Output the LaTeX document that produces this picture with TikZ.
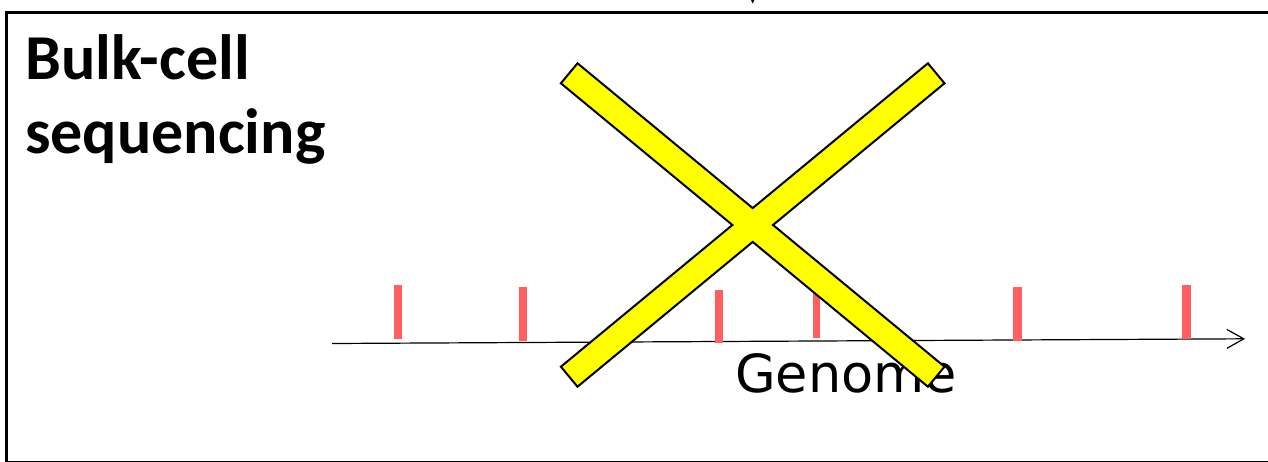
\documentclass[tikz,border=0pt]{standalone}
\usepackage{fontspec}
\setmainfont{Carlito}
\newfontfamily\genomefont{DejaVu Sans}
\usetikzlibrary{arrows.meta}
\definecolor{markred}{RGB}{255,95,95}
\definecolor{crossyellow}{RGB}{255,255,0}
\tikzset{
  frame/.style={draw=black,line width=2.2pt},
  axisline/.style={draw=black,line width=1.2pt,-{Straight Barb[length=17pt,width=19pt,line width=1.2pt]}},
  mark/.style={draw=none,fill=markred},
  crossshape/.style={draw=black,line width=2pt,fill=crossyellow,line join=miter},
  titletext/.style={font=\fontsize{64}{75}\selectfont\bfseries,anchor=base west,inner sep=0pt},
  labeltext/.style={font=\genomefont\fontsize{52.5}{60}\selectfont,anchor=base west,inner sep=0pt}
}
\begin{document}
\begin{tikzpicture}[x=1pt,y=-1pt]
\useasboundingbox (0,0) rectangle (1268,462);
\clip (0,0) rectangle (1268,462);
% frame
\draw[frame] (6.5,12.5) rectangle (1290,462.5);
% small arrow tip at top
\fill (751,0) -- (754.4,0) -- (752.7,3.5) -- cycle;
% axis
\coordinate (axstart) at (332,343.5);
\coordinate (axend) at (1245,338.8);
\draw[axisline] (axstart) -- (axend);
% red marks
\fill[markred] (394,285) rectangle (402,339);
\fill[markred] (519,287.3) rectangle (527,341);
\fill[markred] (715,290) rectangle (722.7,343.3);
\fill[markred] (812.7,290) rectangle (820.3,338.3);
\fill[markred] (1013.3,287.3) rectangle (1021.7,341.3);
\fill[markred] (1182.3,285) rectangle (1190.7,339);
% labels
\node[labeltext] (genome) at (735,392) {Genome};
\node[titletext] (title1) at (25,80) {Bulk-cell};
\node[titletext] (title2) at (25,154) {sequencing};
% cross
\coordinate (c1) at (560.9,83.3);
\coordinate (c2) at (577.5,63.3);
\coordinate (ntop) at (752.7,208.1);
\coordinate (c3) at (927.9,63.3);
\coordinate (c4) at (944.5,83.3);
\coordinate (nright) at (773,225);
\coordinate (c5) at (944.5,366.7);
\coordinate (c6) at (927.9,386.7);
\coordinate (nbot) at (752.7,241.9);
\coordinate (c7) at (577.5,386.7);
\coordinate (c8) at (560.9,366.7);
\coordinate (nleft) at (732.4,225);
\draw[crossshape] (c1) -- (c2) -- (ntop) -- (c3) -- (c4) -- (nright) -- (c5) -- (c6) -- (nbot) -- (c7) -- (c8) -- (nleft) -- cycle;
\end{tikzpicture}
\end{document}
